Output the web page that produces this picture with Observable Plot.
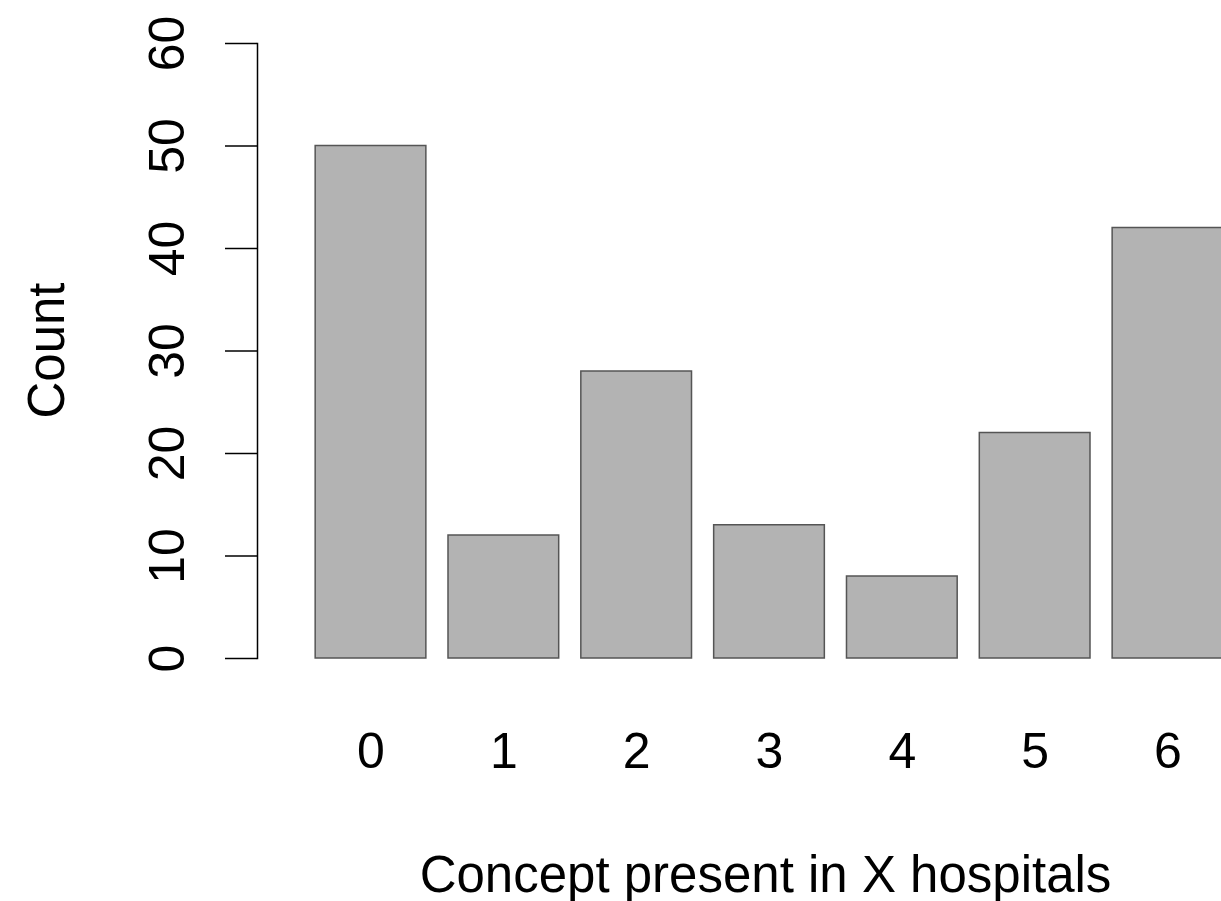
<!DOCTYPE html>
<html>
<head>
<meta charset="utf-8">
<script src="https://cdn.jsdelivr.net/npm/d3@7"></script>
<script src="https://cdn.jsdelivr.net/npm/@observablehq/plot@0.6"></script>
<style>
  html, body { margin: 0; padding: 0; background: #fff; overflow: hidden; }
  #chart svg { display: block; overflow: hidden; }
</style>
</head>
<body>
<div id="chart"></div>
<script>
const categories = ["0", "1", "2", "3", "4", "5", "6"];
const counts = [50, 12, 28, 13, 8, 22, 42];
const yTicks = [0, 10, 20, 30, 40, 50, 60];
const xTitle = "Concept present in X hospitals";
const yTitle = "Count";

const data = categories.map((c, i) => ({category: c, count: counts[i]}));
const font = "'Liberation Sans', Arial, sans-serif";

const chart = Plot.plot({
  width: 1221,
  height: 901,
  marginLeft: 257,
  marginRight: 0,
  marginTop: 43,
  marginBottom: 243,
  style: {fontFamily: font, background: "#fff", color: "#000"},
  x: {type: "band", domain: categories, range: [304.1, 1233.9], paddingInner: 1/6, paddingOuter: 1/12, round: false},
  y: {domain: [0, 60], range: [658, 43]},
  marks: [
    Plot.barY(data, {x: "category", y: "count", fill: "#b3b3b3", stroke: "#555555", strokeWidth: 1.5}),
    Plot.frame({anchor: "left", stroke: "#000", strokeWidth: 1.5}),
    Plot.axisY({ticks: yTicks, tickSize: 32, tickPadding: 42, tickRotate: -90, fontSize: 50, label: null, stroke: "#000", strokeWidth: 1.5, strokeOpacity: 1}),
    Plot.axisX({tickSize: 0, tickPadding: 74, fontSize: 50, label: null}),
    Plot.text([xTitle], {text: d => d, frameAnchor: "bottom-left", dx: 765 - 257, dy: 233, textAnchor: "middle", lineAnchor: "bottom", fontSize: 51, fill: "#000"}),
    Plot.text([yTitle], {text: d => d, frameAnchor: "top-left", dx: 63 - 257, dy: 350 - 43, rotate: -90, textAnchor: "middle", lineAnchor: "bottom", fontSize: 51, fill: "#000"})
  ]
});
document.getElementById("chart").appendChild(chart);
</script>
</body>
</html>
